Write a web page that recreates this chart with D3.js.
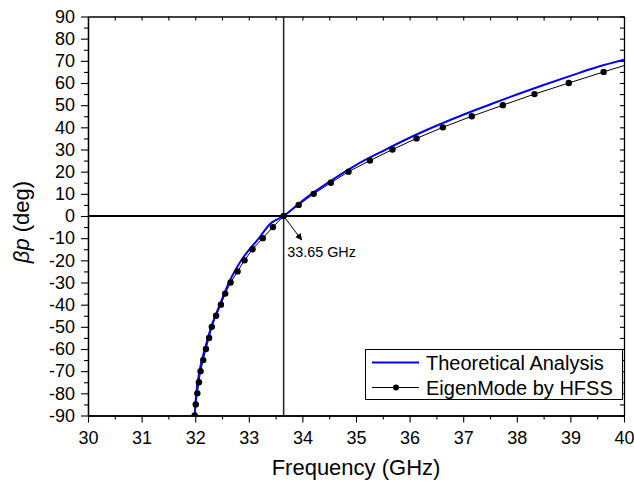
<!DOCTYPE html>
<html><head><meta charset="utf-8">
<script src="https://cdn.jsdelivr.net/npm/d3@7"></script>
<style>body{margin:0;background:#fff} svg{display:block} text{font-family:"Liberation Sans",Arial,sans-serif;fill:#000}</style>
</head><body><svg id="c" width="634" height="481"></svg>
<script>
// ---- data ----
const theoryFreq  = [31.99, 32.02, 32.08, 32.18, 32.30, 32.46, 32.63, 32.86, 33.19, 33.40, 33.65, 34.0, 34.5, 35.0, 35.5, 36.0, 36.5, 37.0, 37.5, 38.0, 38.5, 39.0, 39.5, 40.0];
const theoryPhase = [-90, -80, -70, -60, -50, -40, -30, -20, -10, -3.5, 0, 6.9, 15.4, 23.0, 29.3, 35.3, 40.7, 45.7, 50.3, 54.8, 59.1, 63.2, 67.2, 70.5];
const hfssFreq  = [31.99, 32.01, 32.04, 32.07, 32.10, 32.15, 32.20, 32.26, 32.31, 32.39, 32.48, 32.56, 32.66, 32.79, 32.92, 33.07, 33.26, 33.45, 33.65, 33.93, 34.21, 34.53, 34.86, 35.26, 35.68, 36.13, 36.62, 37.16, 37.74, 38.33, 38.97, 39.62, 40.28];
const hfssPhase = [-90, -85, -80, -75, -70, -65, -60, -55, -50, -45, -40, -35, -30, -25, -20, -15, -10, -5, 0, 5, 10, 15, 20, 25, 30, 35, 40, 45, 50, 55, 60, 65, 70];
const xMajor = [30, 31, 32, 33, 34, 35, 36, 37, 38, 39, 40];
const xMinor = [30.5, 31.5, 32.5, 33.5, 34.5, 35.5, 36.5, 37.5, 38.5, 39.5];
const yMajor = [-90, -80, -70, -60, -50, -40, -30, -20, -10, 0, 10, 20, 30, 40, 50, 60, 70, 80, 90];
const yMinor = [-85, -75, -65, -55, -45, -35, -25, -15, -5, 5, 15, 25, 35, 45, 55, 65, 75, 85];
const crossFreq = 33.65;
const crossLabel = "33.65 GHz";
const legendLabels = ["Theoretical Analysis", "EigenMode by HFSS"];
const xTitle = "Frequency (GHz)";

// ---- drawing ----
const svg = d3.select("#c");
const L = 88, R = 624, T = 16.5, B = 415.5;
const x = d3.scaleLinear().domain([30, 40]).range([L, R]);
const y = d3.scaleLinear().domain([-90, 90]).range([B, T]);

const defs = svg.append("defs");
defs.append("clipPath").attr("id", "clip").append("rect")
  .attr("x", L).attr("y", T).attr("width", R - L).attr("height", B - T);
defs.append("marker").attr("id", "arr").attr("viewBox", "0 0 10 10")
  .attr("refX", 9).attr("refY", 5).attr("markerWidth", 7).attr("markerHeight", 7)
  .attr("markerUnits", "userSpaceOnUse").attr("orient", "auto")
  .append("path").attr("d", "M0,0 L10,5 L0,10 z").attr("fill", "#000");

function styleAxis(g, fs) {
  g.select(".domain").attr("stroke", "#000").attr("stroke-width", 1.3);
  g.selectAll(".tick line").attr("stroke", "#000").attr("stroke-width", 1.1);
  g.selectAll("text").attr("font-size", fs).attr("fill", "#000").attr("font-family", '"Liberation Sans", Arial, sans-serif');
}

// bottom
const gb = svg.append("g").attr("transform", `translate(0,${B})`)
  .call(d3.axisBottom(x).tickValues(xMajor).tickFormat(d3.format("d")).tickSize(7).tickSizeOuter(0).tickPadding(9));
styleAxis(gb, 18);
const gbm = svg.append("g").attr("transform", `translate(0,${B})`)
  .call(d3.axisBottom(x).tickValues(xMinor).tickFormat("").tickSize(4).tickSizeOuter(0));
styleAxis(gbm, 18);
// top
const gt = svg.append("g").attr("transform", `translate(0,${T})`)
  .call(d3.axisTop(x).tickValues(xMajor.concat(xMinor)).tickFormat("").tickSize(-4).tickSizeOuter(0));
styleAxis(gt, 18);
// left
const gl = svg.append("g").attr("transform", `translate(${L},0)`)
  .call(d3.axisLeft(y).tickValues(yMajor).tickFormat(d3.format("d")).tickSize(7).tickSizeOuter(0).tickPadding(6));
styleAxis(gl, 18);
gl.selectAll("text").text(d => d < 0 ? "-" + Math.abs(d) : d);
const glm = svg.append("g").attr("transform", `translate(${L},0)`)
  .call(d3.axisLeft(y).tickValues(yMinor).tickFormat("").tickSize(4).tickSizeOuter(0));
styleAxis(glm, 18);
// right
const gr = svg.append("g").attr("transform", `translate(${R},0)`)
  .call(d3.axisRight(y).tickValues(yMajor.concat(yMinor)).tickFormat("").tickSize(-4).tickSizeOuter(0));
styleAxis(gr, 18);

// reference lines
svg.append("line").attr("x1", L).attr("x2", R).attr("y1", y(0)).attr("y2", y(0))
  .attr("stroke", "#000").attr("stroke-width", 2);
svg.append("line").attr("x1", x(crossFreq)).attr("x2", x(crossFreq)).attr("y1", T).attr("y2", B)
  .attr("stroke", "#222").attr("stroke-width", 1.5);

// curves
const plot = svg.append("g").attr("clip-path", "url(#clip)");
const hfss = hfssFreq.map((f, i) => [f, hfssPhase[i]]);
const theory = theoryFreq.map((f, i) => [f, theoryPhase[i]]);
plot.append("path").datum(hfss)
  .attr("d", d3.line().x(d => x(d[0])).y(d => y(d[1])))
  .attr("fill", "none").attr("stroke", "#000").attr("stroke-width", 1);
plot.append("path").datum(theory)
  .attr("d", d3.line().curve(d3.curveMonotoneX).x(d => x(d[0])).y(d => y(d[1])))
  .attr("fill", "none").attr("stroke", "#0000ff").attr("stroke-width", 2);
plot.selectAll("circle.pt").data(hfss).enter().append("circle").attr("class", "pt")
  .attr("cx", d => x(d[0])).attr("cy", d => y(d[1])).attr("r", 3.2).attr("fill", "#000");

// annotation arrow
svg.append("line").attr("x1", x(crossFreq)).attr("y1", y(0))
  .attr("x2", x(crossFreq) + 18).attr("y2", y(0) + 24)
  .attr("stroke", "#000").attr("stroke-width", 1).attr("marker-end", "url(#arr)");
svg.append("text").attr("x", x(crossFreq) + 3.5).attr("y", y(0) + 40.5)
  .attr("font-size", 14.4).text(crossLabel);

// axis titles
svg.append("text").attr("x", (L + R) / 2).attr("y", 475).attr("text-anchor", "middle")
  .attr("font-size", 22).text(xTitle);
const yt = svg.append("text").attr("transform", "translate(29,222) rotate(-90)")
  .attr("text-anchor", "middle").attr("font-size", 22);
yt.append("tspan").attr("font-style", "italic").text("βp");
yt.append("tspan").text(" (deg)");

// legend
const lg = svg.append("g");
lg.append("rect").attr("x", 365.5).attr("y", 349.5).attr("width", 257).attr("height", 50)
  .attr("fill", "#fff").attr("stroke", "#000").attr("stroke-width", 1);
lg.append("line").attr("x1", 372).attr("x2", 419).attr("y1", 362.5).attr("y2", 362.5)
  .attr("stroke", "#0000ff").attr("stroke-width", 2);
lg.append("line").attr("x1", 372).attr("x2", 419).attr("y1", 387.5).attr("y2", 387.5)
  .attr("stroke", "#000").attr("stroke-width", 1);
lg.append("circle").attr("cx", 396).attr("cy", 387.5).attr("r", 3).attr("fill", "#000");
lg.selectAll("text.lt").data(legendLabels).enter().append("text").attr("class", "lt")
  .attr("x", 426).attr("y", (d, i) => 369.5 + i * 25).attr("font-size", 20).text(d => d);
</script></body></html>
